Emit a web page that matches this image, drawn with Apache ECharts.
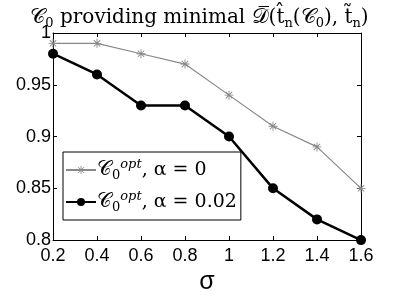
<!DOCTYPE html>
<html><head><meta charset="utf-8">
<script src="https://cdn.jsdelivr.net/npm/echarts@6/dist/echarts.min.js"></script>
<style>html,body{margin:0;padding:0;background:#fff}#c{width:399px;height:300px}</style>
</head><body><div id="c"></div>
<script>
const sigma = [0.2, 0.4, 0.6, 0.8, 1.0, 1.2, 1.4, 1.6];
const alpha0 = [0.99, 0.99, 0.98, 0.97, 0.94, 0.91, 0.89, 0.85];
const alpha002 = [0.98, 0.96, 0.93, 0.93, 0.90, 0.85, 0.82, 0.80];
const seriesNames = ['a0', 'a002'];
const legendTexts = {a0: '0', a002: '0.02'};

const asterisk = 'path://M9,0h2v7.6l5.4-5.4l1.4,1.4l-5.4,5.4h7.6v2h-7.6l5.4,5.4l-1.4,1.4l-5.4-5.4v7.6h-2v-7.6l-5.4,5.4l-1.4-1.4l5.4-5.4h-7.6v-2h7.6l-5.4-5.4l1.4-1.4l5.4,5.4z';
const serif = '"DejaVu Serif","Liberation Serif",serif';
const sans = '"Liberation Sans","DejaVu Sans",sans-serif';

const chart = echarts.init(document.getElementById('c'));
const pts = a => sigma.map((s, i) => [s, a[i]]);
chart.setOption({
  animation: false,
  title: {
    text: '{m|𝒞}{s|0} providing minimal {m|𝒟̅}(t̂{s|n}({m|𝒞}{s|0}), t̃{s|n})',
    left: 'center', top: 1,
    textStyle: {
      fontFamily: serif, fontSize: 20, fontWeight: 'normal', color: '#000',
      rich: {
        m: {fontFamily: serif, fontSize: 21, color: '#000'},
        s: {fontFamily: serif, fontSize: 13, color: '#000', padding: [11, 0, 0, 0]}
      }
    }
  },
  grid: {left: 53, right: 38, top: 33, bottom: 57, containLabel: false},
  legend: {
    orient: 'vertical', left: 63, top: 152,
    backgroundColor: '#fff', borderColor: '#000', borderWidth: 1, borderRadius: 0,
    padding: [6, 4, 6, 2], itemGap: 8, itemWidth: 30, itemHeight: 10,
    data: seriesNames,
    formatter: n => '{m|𝒞}{s|0}{p|opt}, α = ' + legendTexts[n],
    textStyle: {
      fontFamily: serif, fontSize: 19, color: '#000', padding: [0, 0, 0, -4],
      rich: {
        m: {fontFamily: serif, fontSize: 20, color: '#000'},
        s: {fontFamily: serif, fontSize: 13, color: '#000', padding: [11, 0, 0, 0]},
        p: {fontFamily: serif, fontSize: 13, fontStyle: 'italic', color: '#000', padding: [0, 0, 11, 0]}
      }
    }
  },
  xAxis: [{
    type: 'value', min: 0.2, max: 1.6, interval: 0.2,
    name: 'σ', nameLocation: 'middle', nameGap: 26,
    nameTextStyle: {fontFamily: sans, fontSize: 25, color: '#000'},
    axisLine: {lineStyle: {color: '#000', width: 1}},
    axisTick: {inside: true, length: 4, lineStyle: {color: '#000'}},
    axisLabel: {fontFamily: sans, fontSize: 18, color: '#000', margin: 7},
    splitLine: {show: false}
  }, {
    type: 'value', position: 'top', min: 0.2, max: 1.6, interval: 0.2,
    axisLine: {show: true, lineStyle: {color: '#000', width: 1}},
    axisTick: {inside: true, length: 4, lineStyle: {color: '#000'}},
    axisLabel: {show: false}, splitLine: {show: false}
  }],
  yAxis: [{
    type: 'value', min: 0.8, max: 1, interval: 0.05,
    axisLine: {show: true, lineStyle: {color: '#000', width: 1}},
    axisTick: {show: true, inside: true, length: 4, lineStyle: {color: '#000'}},
    axisLabel: {fontFamily: sans, fontSize: 18, color: '#000', margin: 2},
    splitLine: {show: false}
  }, {
    type: 'value', position: 'right', min: 0.8, max: 1, interval: 0.05,
    axisLine: {show: true, lineStyle: {color: '#000', width: 1}},
    axisTick: {show: true, inside: true, length: 4, lineStyle: {color: '#000'}},
    axisLabel: {show: false}, splitLine: {show: false}
  }],
  series: [{
    name: 'a0', type: 'line', data: pts(alpha0),
    symbol: asterisk, symbolSize: 9, showAllSymbol: true,
    lineStyle: {color: '#888', width: 1.2},
    itemStyle: {color: '#888', borderWidth: 0}
  }, {
    name: 'a002', type: 'line', data: pts(alpha002),
    symbol: 'circle', symbolSize: 10, showAllSymbol: true,
    lineStyle: {color: '#000', width: 2.5},
    itemStyle: {color: '#000', borderWidth: 0}
  }]
});
</script></body></html>
